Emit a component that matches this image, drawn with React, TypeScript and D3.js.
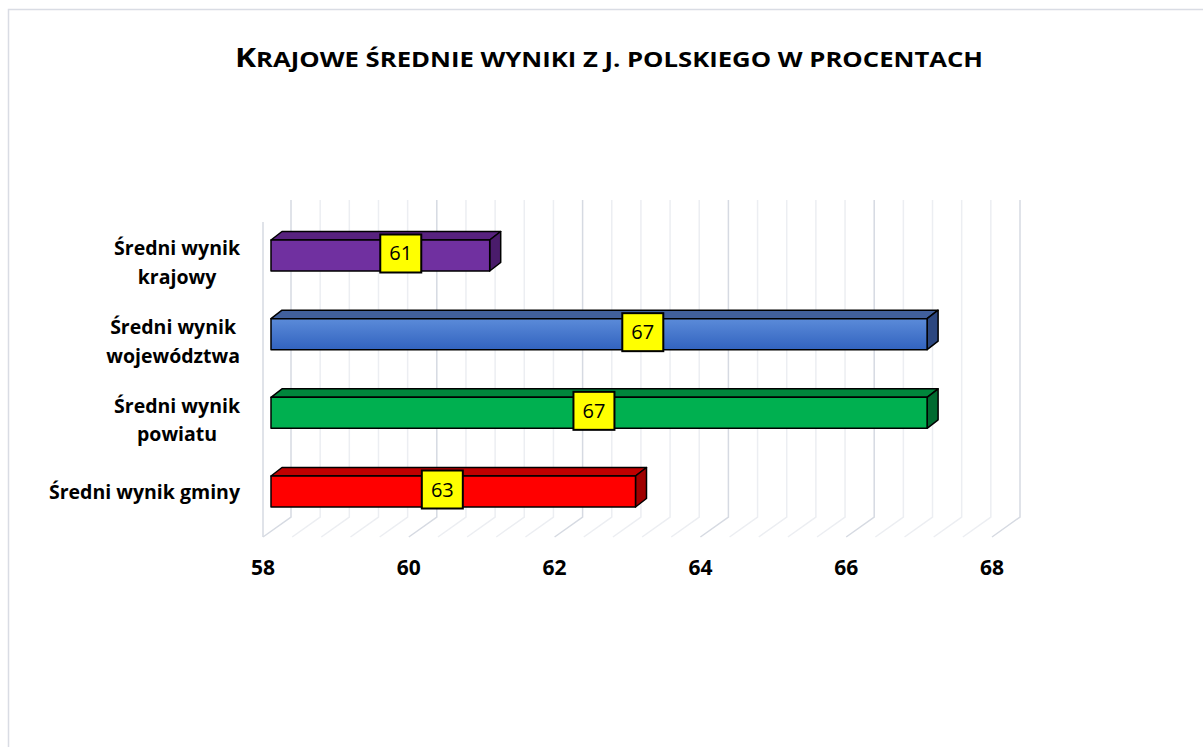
import React, { useRef, useEffect } from 'react'
import * as d3 from 'd3'

const titleText = 'Krajowe średnie wyniki z j. polskiego w procentach'
const categories = ['krajowy', 'województwa', 'powiatu', 'gminy']
const categoryLines = [
  ['Średni wynik', 'krajowy'],
  ['Średni wynik', 'województwa'],
  ['Średni wynik', 'powiatu'],
  ['Średni wynik gminy'],
]
const values = [61, 67, 67, 63]
// where the yellow value boxes sit, in axis units
const labelAt = [59.78, 63.1, 62.43, 60.35]
const tickValues = [58, 60, 62, 64, 66, 68]
const gridStep = 0.4

const frontColors = ['#7030a0', 'url(#blueGrad)', '#00b050', '#ff0000']
const topColors = ['#58227f', '#41609c', '#00863c', '#c00000']
const sideColors = ['#4a1c6b', '#2c4780', '#006b30', '#a00000']

const W = 1203
const H = 747
const FONT = '"Open Sans", sans-serif'

export default function App() {
  const svgRef = useRef<SVGSVGElement | null>(null)

  useEffect(() => {
    if (!svgRef.current) return
    const svg = d3.select(svgRef.current)
    svg.selectAll('*').remove()

    const defs = svg.append('defs')
    const grad = defs.append('linearGradient')
      .attr('id', 'blueGrad').attr('x1', 0).attr('y1', 0).attr('x2', 0).attr('y2', 1)
    grad.append('stop').attr('offset', '0%').attr('stop-color', '#5b8bd9')
    grad.append('stop').attr('offset', '100%').attr('stop-color', '#3263bf')

    svg.append('rect').attr('width', W).attr('height', H).attr('fill', '#fff')
    // chart frame
    svg.append('rect')
      .attr('x', 8.5).attr('y', 9.5).attr('width', W + 20).attr('height', H + 20)
      .attr('fill', 'none').attr('stroke', '#d9dce4').attr('stroke-width', 1.5)

    // title (small caps built by hand, stretched to the original width)
    const title = svg.append('text')
      .attr('x', 235).attr('y', 67)
      .attr('textLength', 748)
      .attr('lengthAdjust', 'spacingAndGlyphs')
      .style('font-family', FONT)
      .style('font-weight', 700)
      .attr('fill', '#000')
    title.append('tspan').style('font-size', '26px').text(titleText[0].toUpperCase())
    title.append('tspan').style('font-size', '21px').text(titleText.slice(1).toUpperCase())

    // scales
    const xFloor = d3.scaleLinear().domain([58, 68]).range([263, 992])
    const xBar = d3.scaleLinear().domain([58, 68]).range([271, 1000])
    const y = d3.scaleBand<string>()
      .domain(categories)
      .range([216.4, 530.6])
      .paddingInner(0.606)
      .paddingOuter(0.3)

    const floorFront = 537
    const floorBack = 517
    const wallTop = 200
    const depthX = 28

    // back wall + floor grid
    const gridVals = d3.range(58, 68 + 0.001, gridStep)
    const isMajor = (v: number) => Math.abs(v / 2 - Math.round(v / 2)) < 0.01
    const grid = svg.append('g').attr('fill', 'none')
    gridVals.forEach(v => {
      const col = isMajor(v) ? '#d6dae2' : '#eceef2'
      const xf = xFloor(v)
      grid.append('path')
        .attr('d', `M${xf},${floorFront}L${xf + depthX},${floorBack}L${xf + depthX},${wallTop}`)
        .attr('stroke', col).attr('stroke-width', 1.5)
    })
    // left side wall edge
    grid.append('line')
      .attr('x1', xFloor(58)).attr('x2', xFloor(58))
      .attr('y1', 222).attr('y2', floorFront)
      .attr('stroke', '#d6dae2').attr('stroke-width', 1.5)

    // bars
    const dx = 11
    const dy = -8.5
    const bars = svg.append('g')
      .attr('stroke', '#000').attr('stroke-width', 1.5).attr('stroke-linejoin', 'round')
    categories.forEach((c, i) => {
      const x0 = xBar(58)
      const x1 = xBar(values[i])
      const y0 = y(c)!
      const y1 = y0 + y.bandwidth()
      bars.append('path')
        .attr('d', `M${x0},${y0}L${x0 + dx},${y0 + dy}L${x1 + dx},${y0 + dy}L${x1},${y0}Z`)
        .attr('fill', topColors[i])
      bars.append('path')
        .attr('d', `M${x1},${y0}L${x1 + dx},${y0 + dy}L${x1 + dx},${y1 + dy}L${x1},${y1}Z`)
        .attr('fill', sideColors[i])
      bars.append('rect')
        .attr('x', x0).attr('y', y0)
        .attr('width', x1 - x0).attr('height', y1 - y0)
        .attr('fill', frontColors[i])
    })

    // value boxes
    const boxW = 41
    const boxH = 38
    const labels = svg.append('g')
    categories.forEach((c, i) => {
      const cx = xBar(labelAt[i])
      const cy = y(c)! + y.bandwidth() / 2 - 2
      labels.append('rect')
        .attr('x', cx - boxW / 2).attr('y', cy - boxH / 2)
        .attr('width', boxW).attr('height', boxH)
        .attr('fill', '#ffff00').attr('stroke', '#000').attr('stroke-width', 2)
      labels.append('text')
        .attr('x', cx).attr('y', cy + 7)
        .attr('text-anchor', 'middle')
        .style('font-family', FONT)
        .style('font-size', '20px')
        .attr('fill', '#000')
        .text(values[i])
    })

    // category labels, centred block, right aligned
    const catG = svg.append('g')
      .style('font-family', FONT)
      .style('font-size', '19.5px')
      .style('font-weight', 700)
      .attr('fill', '#000')
    const rightEdge = 240
    categories.forEach((c, i) => {
      const lines = categoryLines[i]
      const mid = y(c)! + y.bandwidth() / 2
      const base = mid + (lines.length === 1 ? 7 : 0)
      const t = catG.append('text').attr('text-anchor', 'middle')
      const spans = lines.map((ln, k) =>
        t.append('tspan').attr('y', base + k * 28.5).text(ln)
      )
      const maxW = d3.max(spans.map(s => (s.node() as SVGTextContentElement).getComputedTextLength()))!
      spans.forEach(s => s.attr('x', rightEdge - maxW / 2))
    })

    // x axis labels
    svg.append('g')
      .selectAll('text')
      .data(tickValues)
      .enter().append('text')
      .attr('x', d => xFloor(d))
      .attr('y', 575)
      .attr('text-anchor', 'middle')
      .style('font-family', FONT)
      .style('font-size', '21px')
      .style('font-weight', 700)
      .attr('fill', '#000')
      .text(d => d)
  }, [])

  return (
    <div style={{ position: 'fixed', left: 0, top: 0 }}>
      <svg ref={svgRef} width={W} height={H} style={{ display: 'block' }} />
    </div>
  )
}
